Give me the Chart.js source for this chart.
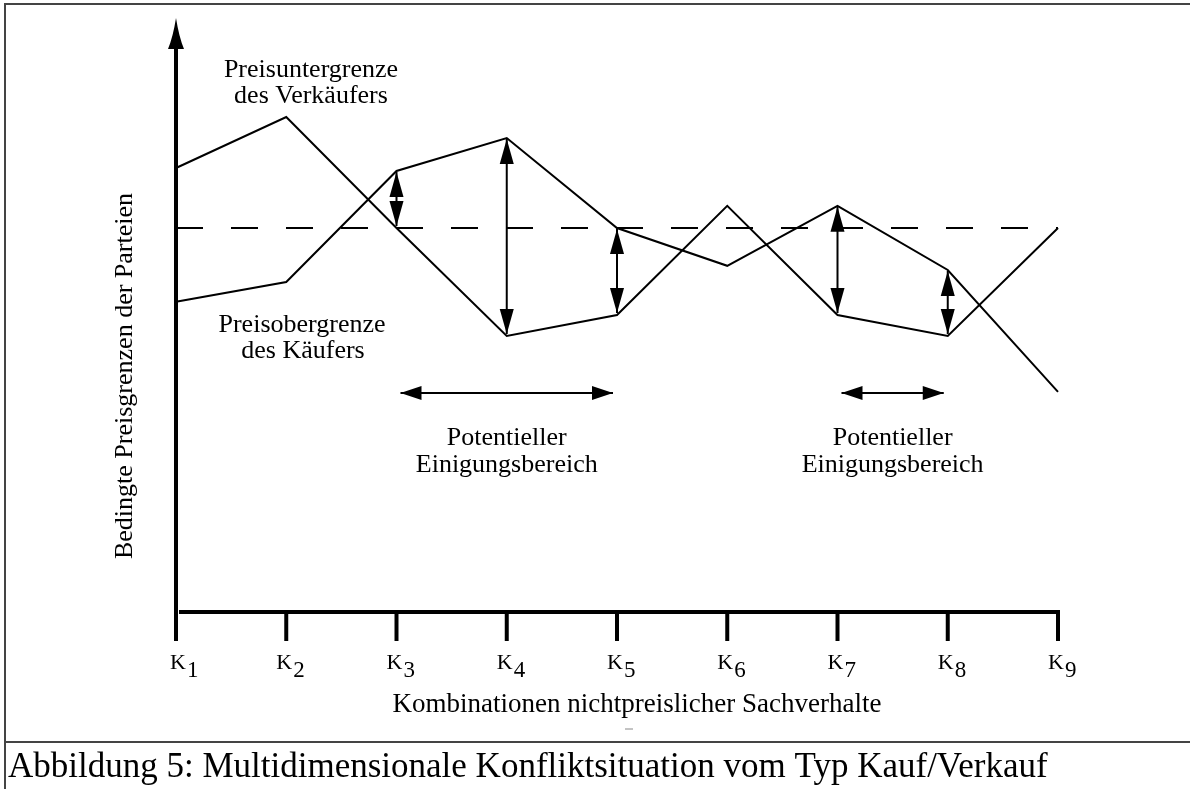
<!DOCTYPE html>
<html>
<head>
<meta charset="utf-8">
<script src="https://cdn.jsdelivr.net/npm/chart.js@4.4.1/dist/chart.umd.min.js"></script>
<style>
  html, body { margin: 0; padding: 0; background: #fff; }
  #chart { display: block; }
</style>
</head>
<body>
<canvas id="chart" width="1190" height="789"></canvas>
<script>
// Kombinationen K1..K9
const combos = ["1", "2", "3", "4", "5", "6", "7", "8", "9"];
// Preisuntergrenze des Verkäufers
const sellerLimit = [74, 82.5, 64, 46, 49.5, 67.7, 49.5, 46, 64];
// Preisobergrenze des Käufers
const buyerLimit = [51.7, 55, 73.5, 79, 64, 57.7, 67.7, 57, 36.7];
// gestrichelte Referenzlinie
const referenceLevel = 64;

const serif = '"Liberation Serif", "Times New Roman", serif';

function arrowHead(ctx, x, y, dx, dy, len, wid) {
    // tip at (x,y), pointing in direction (dx,dy)
    ctx.beginPath();
    ctx.moveTo(x, y);
    ctx.lineTo(x - dx * len - dy * wid / 2, y - dy * len + dx * wid / 2);
    ctx.lineTo(x - dx * len + dy * wid / 2, y - dy * len - dx * wid / 2);
    ctx.closePath();
    ctx.fill();
}

function doubleArrow(ctx, x1, y1, x2, y2, len, wid) {
    const d = Math.hypot(x2 - x1, y2 - y1);
    const dx = (x2 - x1) / d, dy = (y2 - y1) / d;
    ctx.beginPath();
    ctx.moveTo(x1, y1);
    ctx.lineTo(x2, y2);
    ctx.stroke();
    arrowHead(ctx, x2, y2, dx, dy, len, wid);
    arrowHead(ctx, x1, y1, -dx, -dy, len, wid);
}

const figurePlugin = {
    id: "figure",
    beforeDatasetsDraw(chart) {
        const ctx = chart.ctx;
        const xs = chart.scales.x, ys = chart.scales.y;
        const area = chart.chartArea;
        ctx.save();

        // Rahmen
        ctx.strokeStyle = "#444";
        ctx.lineWidth = 2;
        ctx.beginPath();
        ctx.moveTo(5, 789); ctx.lineTo(5, 4); ctx.lineTo(1190, 4);
        ctx.moveTo(5, 742); ctx.lineTo(1190, 742);
        ctx.stroke();

        ctx.strokeStyle = "#000";
        ctx.fillStyle = "#000";
        const x0 = xs.getPixelForValue(0);
        const yBase = ys.getPixelForValue(0);

        // y-Achse mit Pfeil
        ctx.lineWidth = 4;
        ctx.beginPath();
        ctx.moveTo(x0, yBase + 29);
        ctx.lineTo(x0, area.top + 30);
        ctx.stroke();
        ctx.beginPath();
        ctx.moveTo(x0, area.top + 6);
        ctx.quadraticCurveTo(x0 + 3, area.top + 25, x0 + 8, area.top + 37);
        ctx.lineTo(x0 - 8, area.top + 37);
        ctx.quadraticCurveTo(x0 - 3, area.top + 25, x0, area.top + 6);
        ctx.fill();

        // x-Achse mit Teilstrichen
        ctx.beginPath();
        ctx.moveTo(x0 + 3, yBase);
        ctx.lineTo(xs.getPixelForValue(combos.length - 1) + 2, yBase);
        ctx.stroke();
        ctx.textBaseline = "alphabetic";
        ctx.textAlign = "left";
        combos.forEach((c, i) => {
            const px = xs.getPixelForValue(i);
            ctx.beginPath();
            ctx.moveTo(px, yBase);
            ctx.lineTo(px, yBase + 29);
            ctx.stroke();
            const lx = px - (i === 0 ? 6 : 10);
            ctx.font = "22px " + serif;
            ctx.fillText("K", lx, yBase + 57);
            const kw = ctx.measureText("K").width;
            ctx.font = "23px " + serif;
            ctx.fillText(c, lx + kw + 1, yBase + 65);
        });

        // Achsentitel
        ctx.textAlign = "center";
        ctx.font = "27px " + serif;
        ctx.fillText("Kombinationen nichtpreislicher Sachverhalte", 637, 712);
        ctx.font = "26px " + serif;
        ctx.save();
        ctx.translate(132, 376);
        ctx.rotate(-Math.PI / 2);
        ctx.fillText("Bedingte Preisgrenzen der Parteien", 0, 0);
        ctx.restore();

        // kleiner Strich unter dem Titel
        ctx.strokeStyle = "#888";
        ctx.lineWidth = 1;
        ctx.beginPath();
        ctx.moveTo(625, 729); ctx.lineTo(633, 729);
        ctx.stroke();

        // Beschriftung der Kurven
        ctx.fillStyle = "#000";
        ctx.fillText("Preisuntergrenze", 311, 77);
        ctx.fillText("des Verkäufers", 311, 103);
        ctx.fillText("Preisobergrenze", 302, 332);
        ctx.fillText("des Käufers", 303, 358);

        // Bildunterschrift
        ctx.textAlign = "left";
        ctx.font = "35px " + serif;
        ctx.fillText("Abbildung 5: Multidimensionale Konfliktsituation vom Typ Kauf/Verkauf", 8, 777);
        ctx.restore();
    },
    afterDatasetsDraw(chart) {
        const ctx = chart.ctx;
        const xs = chart.scales.x, ys = chart.scales.y;
        ctx.save();
        ctx.strokeStyle = "#000";
        ctx.fillStyle = "#000";
        ctx.lineWidth = 2;

        // senkrechte Pfeile wo Käufer über Verkäufer liegt
        const overlap = combos.map((c, i) => buyerLimit[i] > sellerLimit[i]);
        overlap.forEach((ok, i) => {
            if (!ok) return;
            const px = xs.getPixelForValue(i);
            const top = ys.getPixelForValue(buyerLimit[i]) + 1;
            const bot = ys.getPixelForValue(sellerLimit[i]) - 2;
            doubleArrow(ctx, px, top, px, bot, 25, 14);
        });

        // waagerechte Pfeile über den Einigungsbereichen
        const runs = [];
        let start = -1;
        overlap.forEach((ok, i) => {
            if (ok && start < 0) start = i;
            if ((!ok || i === overlap.length - 1) && start >= 0) {
                runs.push([start, ok ? i : i - 1]);
                start = -1;
            }
        });
        const arrowY = 393;
        ctx.font = "26px " + serif;
        ctx.textAlign = "center";
        runs.forEach(([a, b]) => {
            const xa = xs.getPixelForValue(a) + 4;
            const xb = xs.getPixelForValue(b) - 4;
            doubleArrow(ctx, xa, arrowY, xb, arrowY, 21, 14);
            const mid = (xa + xb) / 2;
            ctx.fillText("Potentieller", mid, 445);
            ctx.fillText("Einigungsbereich", mid, 472);
        });
        ctx.restore();
    }
};

new Chart(document.getElementById("chart").getContext("2d"), {
    type: "line",
    data: {
        labels: combos.map(c => "K" + c),
        datasets: [
            {
                label: "Preisuntergrenze des Verkäufers",
                data: sellerLimit,
                borderColor: "#000",
                borderWidth: 2,
                pointRadius: 0,
                tension: 0
            },
            {
                label: "Preisobergrenze des Käufers",
                data: buyerLimit,
                borderColor: "#000",
                borderWidth: 2,
                pointRadius: 0,
                tension: 0
            },
            {
                label: "Referenz",
                data: combos.map(() => referenceLevel),
                borderColor: "#000",
                borderWidth: 2,
                borderDash: [27, 28],
                pointRadius: 0,
                tension: 0
            }
        ]
    },
    options: {
        responsive: false,
        animation: false,
        devicePixelRatio: 1,
        layout: { padding: { left: 176, right: 132, top: 12, bottom: 177 } },
        scales: {
            x: { type: "category", offset: false, display: false },
            y: { min: 0, max: 100, display: false }
        },
        plugins: {
            legend: { display: false },
            tooltip: { enabled: false }
        }
    },
    plugins: [figurePlugin]
});
</script>
</body>
</html>
